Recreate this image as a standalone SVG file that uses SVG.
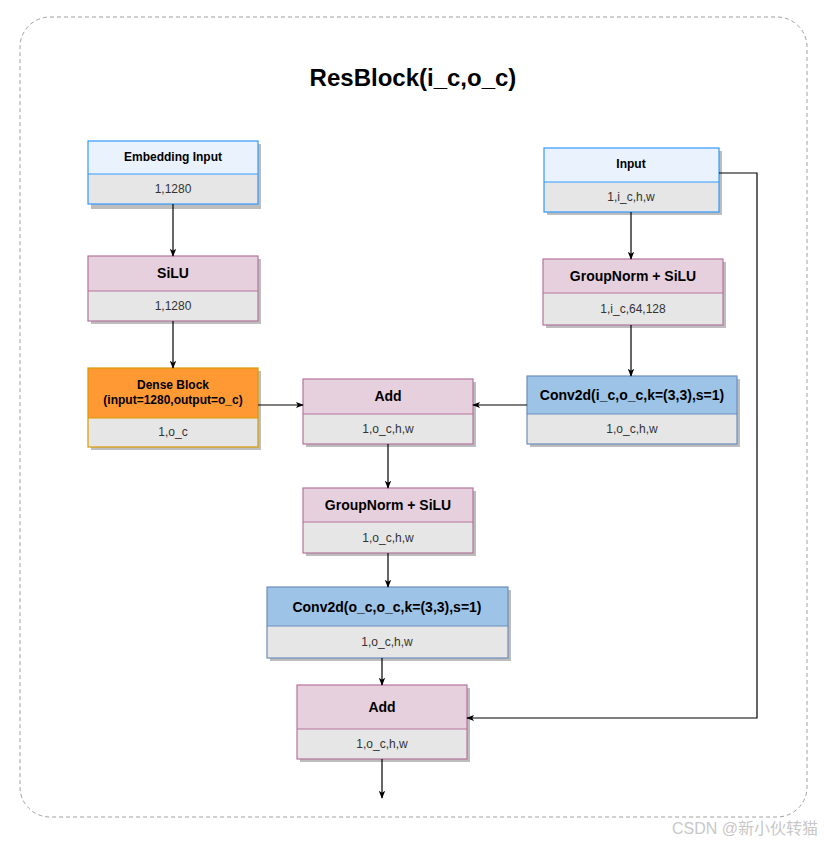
<svg xmlns="http://www.w3.org/2000/svg" width="837" height="845" viewBox="0 0 837 845">
<defs>
<marker id="arr" viewBox="0 0 10 10" refX="9" refY="5" markerWidth="8" markerHeight="8" orient="auto" markerUnits="userSpaceOnUse">
<path d="M0,1 L10,5 L0,9 L2.5,5 Z" fill="#000"/>
</marker>
<style>
text{font-family:"Liberation Sans",Arial,sans-serif;text-anchor:middle;dominant-baseline:central}
.t{font-size:14px;font-weight:bold;fill:#000}
.s{font-size:12px;fill:#333}
.sh{fill:#bdbdbd}
.sub{fill:#e6e6e6}
.pink .hd{fill:#e6d0de}
.pink rect.b{stroke:#b5739d}
.blue .hd{fill:#9dc3e6}
.blue rect.b{stroke:#6c8ebf}
.lblue .hd{fill:#eaf2fd}
.lblue rect.b{stroke:#3399ff}
.orange .hd{fill:#ff9933}
.orange rect.b{stroke:#d79b00}
rect.b{fill:none;stroke-width:1.2}
line.d{stroke-width:1.2}
.pink line.d{stroke:#b5739d}
.blue line.d{stroke:#6c8ebf}
.lblue line.d{stroke:#3399ff}
.orange line.d{stroke:#d79b00}
.c{fill:none;stroke:#000;stroke-width:1.2;marker-end:url(#arr)}
</style>
</defs>
<rect x="0" y="0" width="837" height="845" fill="#fff"/>
<rect x="20" y="17" width="787" height="800" rx="30" ry="30" fill="none" stroke="#a0a0a0" stroke-width="1" stroke-dasharray="4 3"/>
<text x="413" y="77" style="font-size:24px;font-weight:bold;fill:#000">ResBlock(i_c,o_c)</text>

<g id="embedding" class="lblue">
<rect class="sh" x="91" y="144" width="170" height="65"/>
<rect class="hd" x="88" y="141" width="170" height="33"/>
<rect class="sub" x="88" y="174" width="170" height="30"/>
<rect class="b" x="88" y="141" width="170" height="63"/>
<line class="d" x1="88" y1="174" x2="258" y2="174"/>
<text class="t" x="173" y="157" style="font-size:12px">Embedding Input</text>
<text class="s" x="173" y="189">1,1280</text>
</g>

<g id="silu" class="pink">
<rect class="sh" x="91" y="259" width="170" height="65"/>
<rect class="hd" x="88" y="256" width="170" height="35"/>
<rect class="sub" x="88" y="291" width="170" height="30"/>
<rect class="b" x="88" y="256" width="170" height="65"/>
<line class="d" x1="88" y1="291" x2="258" y2="291"/>
<text class="t" x="173" y="273">SiLU</text>
<text class="s" x="173" y="306">1,1280</text>
</g>

<g id="dense" class="orange">
<rect class="sh" x="91" y="371" width="170" height="79"/>
<rect class="hd" x="88" y="368" width="170" height="50"/>
<rect class="sub" x="88" y="418" width="170" height="29"/>
<rect class="b" x="88" y="368" width="170" height="79"/>
<line class="d" x1="88" y1="418" x2="258" y2="418"/>
<text class="t" x="173" y="385" style="font-size:12px">Dense Block</text>
<text class="t" x="173" y="400" style="font-size:12px">(input=1280,output=o_c)</text>
<text class="s" x="173" y="432">1,o_c</text>
</g>

<g id="input" class="lblue">
<rect class="sh" x="547" y="151" width="175" height="64"/>
<rect class="hd" x="544" y="148" width="175" height="34"/>
<rect class="sub" x="544" y="182" width="175" height="30"/>
<rect class="b" x="544" y="148" width="175" height="64"/>
<line class="d" x1="544" y1="182" x2="719" y2="182"/>
<text class="t" x="631" y="164" style="font-size:12px">Input</text>
<text class="s" x="631" y="197">1,i_c,h,w</text>
</g>

<g id="gn1" class="pink">
<rect class="sh" x="546" y="262" width="180" height="66"/>
<rect class="hd" x="543" y="259" width="180" height="34"/>
<rect class="sub" x="543" y="293" width="180" height="32"/>
<rect class="b" x="543" y="259" width="180" height="66"/>
<line class="d" x1="543" y1="293" x2="723" y2="293"/>
<text class="t" x="633" y="276">GroupNorm + SiLU</text>
<text class="s" x="633" y="309">1,i_c,64,128</text>
</g>

<g id="conv1" class="blue">
<rect class="sh" x="530" y="379" width="210" height="68"/>
<rect class="hd" x="527" y="376" width="210" height="38"/>
<rect class="sub" x="527" y="414" width="210" height="30"/>
<rect class="b" x="527" y="376" width="210" height="68"/>
<line class="d" x1="527" y1="414" x2="737" y2="414"/>
<text class="t" x="632" y="395">Conv2d(i_c,o_c,k=(3,3),s=1)</text>
<text class="s" x="632" y="429">1,o_c,h,w</text>
</g>

<g id="add1" class="pink">
<rect class="sh" x="306" y="382" width="170" height="65"/>
<rect class="hd" x="303" y="379" width="170" height="35"/>
<rect class="sub" x="303" y="414" width="170" height="30"/>
<rect class="b" x="303" y="379" width="170" height="65"/>
<line class="d" x1="303" y1="414" x2="473" y2="414"/>
<text class="t" x="388" y="396">Add</text>
<text class="s" x="388" y="429">1,o_c,h,w</text>
</g>

<g id="gn2" class="pink">
<rect class="sh" x="306" y="491" width="170" height="65"/>
<rect class="hd" x="303" y="488" width="170" height="34"/>
<rect class="sub" x="303" y="522" width="170" height="31"/>
<rect class="b" x="303" y="488" width="170" height="65"/>
<line class="d" x1="303" y1="522" x2="473" y2="522"/>
<text class="t" x="388" y="505">GroupNorm + SiLU</text>
<text class="s" x="388" y="538">1,o_c,h,w</text>
</g>

<g id="conv2" class="blue">
<rect class="sh" x="270" y="590" width="241" height="71"/>
<rect class="hd" x="267" y="587" width="241" height="39"/>
<rect class="sub" x="267" y="626" width="241" height="32"/>
<rect class="b" x="267" y="587" width="241" height="71"/>
<line class="d" x1="267" y1="626" x2="508" y2="626"/>
<text class="t" x="387" y="607">Conv2d(o_c,o_c,k=(3,3),s=1)</text>
<text class="s" x="387" y="642">1,o_c,h,w</text>
</g>

<g id="add2" class="pink">
<rect class="sh" x="300" y="688" width="170" height="74"/>
<rect class="hd" x="297" y="685" width="170" height="44"/>
<rect class="sub" x="297" y="729" width="170" height="30"/>
<rect class="b" x="297" y="685" width="170" height="74"/>
<line class="d" x1="297" y1="729" x2="467" y2="729"/>
<text class="t" x="382" y="707">Add</text>
<text class="s" x="382" y="744">1,o_c,h,w</text>
</g>

<g id="connectors">
<path class="c" d="M173,204 L173,256"/>
<path class="c" d="M173,321 L173,368"/>
<path class="c" d="M258,405 L303,405"/>
<path class="c" d="M631,212 L631,259"/>
<path class="c" d="M631,325 L631,376"/>
<path class="c" d="M527,405 L473,405"/>
<path class="c" d="M388,444 L388,488"/>
<path class="c" d="M388,553 L388,587"/>
<path class="c" d="M382,658 L382,685"/>
<path class="c" d="M719,173 L757,173 L757,718 L467,718"/>
<path class="c" d="M382,759 L382,798"/>
</g>

<text x="745" y="828" style="font-size:16px;fill:#c8c8c8;font-family:'Liberation Sans','Noto Sans CJK SC',sans-serif">CSDN @新小伙转猫</text>
</svg>
